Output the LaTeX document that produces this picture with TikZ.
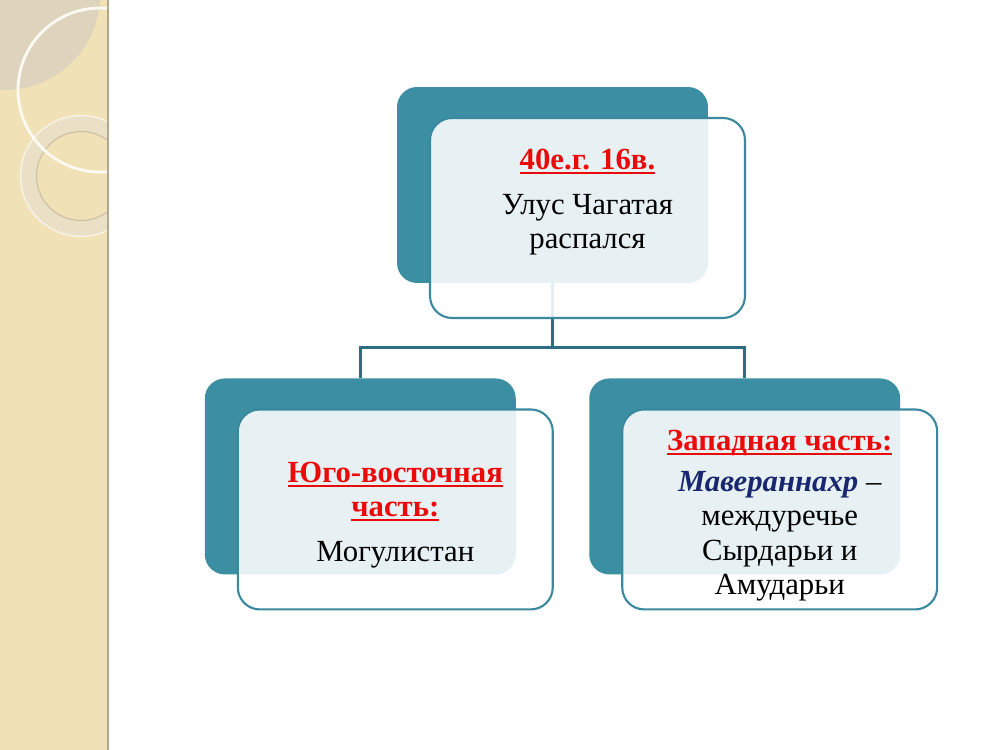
\documentclass[tikz,border=0pt]{standalone}
\usepackage{fontspec}
\setmainfont{Liberation Serif}
\usetikzlibrary{positioning,trees}
\definecolor{tealbox}{RGB}{60,143,163}
\definecolor{tealline}{RGB}{58,137,158}
\definecolor{linkcol}{RGB}{44,110,128}
\definecolor{redtext}{RGB}{235,10,10}
\definecolor{navytext}{RGB}{25,40,110}
\definecolor{bandcol}{RGB}{240,225,182}
\definecolor{blobcol}{RGB}{222,212,190}
\definecolor{ringcol}{RGB}{234,224,198}
\definecolor{edgecol}{RGB}{180,168,140}
\newcommand{\headline}[1]{{\bfseries\color{redtext}\setbox0\hbox{#1}\rlap{\rule[-2.6pt]{\wd0}{1.3pt}}\box0}}
\begin{document}
\begin{tikzpicture}[x=0.02cm,y=-0.02cm,
 level distance=5.83cm,sibling distance=7.69cm,grow=down,
 backbox/.style={rectangle,rounded corners=4mm,fill=tealbox,minimum width=6.22cm,minimum height=3.92cm},
 frontbox/.style={rectangle,rounded corners=4.4mm,draw=tealline,line width=1.2pt,fill=white,fill opacity=0.88,minimum width=6.3cm,minimum height=4cm},
 boxtext/.style={align=center,font=\fontsize{17.5}{19.5}\selectfont,text=black},
 edge from parent/.style={draw=linkcol,line width=1.4pt},
 edge from parent path={(\tikzparentnode.south) -- ++(0,64) -| (\tikzchildnode.north)},
]
    \useasboundingbox (0,0) rectangle (1000,750);
    \fill[white] (0,0) rectangle (1000,750);
    \fill[bandcol] (0,0) rectangle (108,750);
    \begin{scope}
      \clip (0,0) rectangle (108,750);
      \fill[blobcol] (5,-5) circle (1.9cm);
      \draw[ringcol,line width=9pt] (81,176) circle (1.05cm);
      \draw[white!60!ringcol,line width=0.8pt] (81,176) circle (1.21cm);
      \draw[edgecol!60!ringcol,line width=0.6pt] (81,176) circle (0.89cm);
      \draw[white!85!bandcol,line width=1.6pt] (100,90) circle (1.64cm);
    \end{scope}
    \draw[edgecol,line width=1.2pt] (108,0) -- (108,750);

    \node[backbox] (top) at (552.5,185) {}
    child{ node[backbox] (left) {} }
    child{ node[backbox] (right) {} };

    \node[frontbox] (topfront) at ([xshift=0.7cm,yshift=-0.66cm]top.center) {};
    \node[frontbox] (leftfront) at ([xshift=0.7cm,yshift=-0.66cm]left.center) {};
    \node[frontbox] (rightfront) at ([xshift=0.7cm,yshift=-0.66cm]right.center) {};

    \node[boxtext] (toptext) at ([yshift=0.31cm]topfront.center)
      {\headline{40е.г. 16в.}\\[6pt]Улус Чагатая\\распался};
    \node[boxtext] (lefttext) at ([yshift=-0.11cm]leftfront.center)
      {\headline{Юго-восточная}\\\headline{часть:}\\[6pt]Могулистан};
    \node[boxtext] (righttext) at ([yshift=-0.12cm]rightfront.center)
      {\headline{Западная часть:}\\[4pt]{\bfseries\itshape\color{navytext}Мавераннахр} --\\междуречье\\Сырдарьи и\\Амударьи};
   \end{tikzpicture}
\end{document}
